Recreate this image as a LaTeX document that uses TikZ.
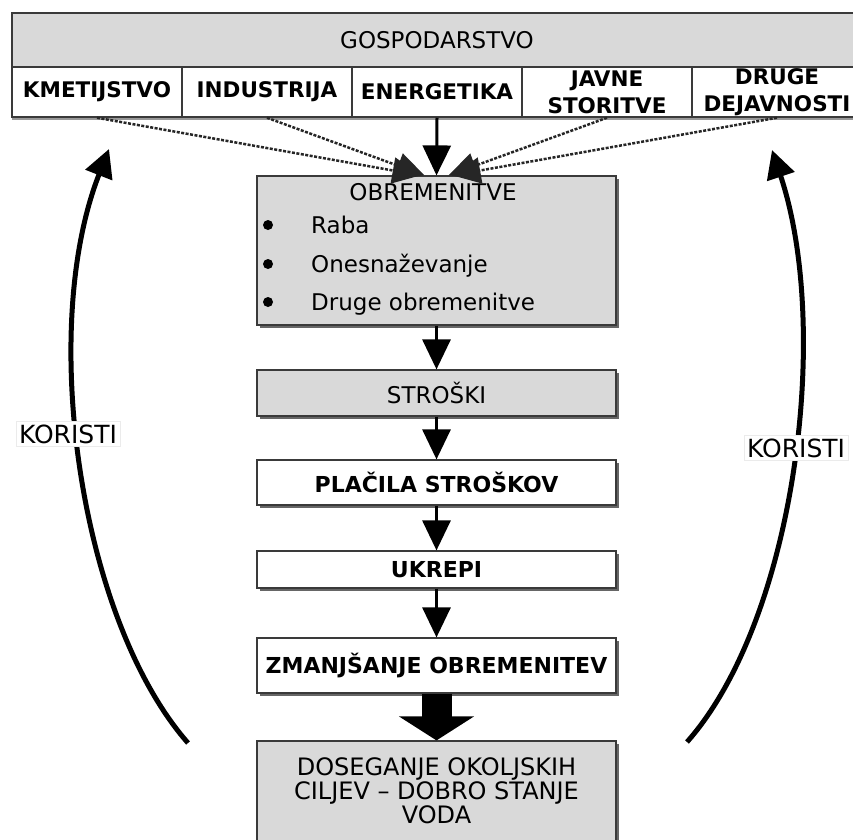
\documentclass[tikz,border=0pt]{standalone}
\usepackage{fontspec}
\setmainfont{DejaVu Sans}
\usepackage{tikz}
\usetikzlibrary{arrows.meta,positioning,shadows}
\definecolor{BoxGray}{HTML}{D9D9D9}
\definecolor{EdgeGray}{HTML}{3A3A3A}

\tikzset{
  graybox/.style={draw=EdgeGray, line width=1.2pt, fill=BoxGray,
    inner sep=0pt, align=center,
    drop shadow={shadow xshift=2.5pt, shadow yshift=-2.5pt,
                 fill=black!60, opacity=1}},
  whitebox/.style={graybox, fill=white},
  sector/.style={draw=EdgeGray, line width=1.5pt, fill=white,
    minimum width=170pt, minimum height=50pt, inner sep=0pt,
    align=center, font=\fontsize{21.5}{27}\selectfont\bfseries,
    drop shadow={shadow xshift=0pt, shadow yshift=-3pt,
                 fill=black!40, opacity=1}},
  flow/.style={draw=black, line width=3pt,
    -{Triangle[length=30pt 0 0,width=28pt 0 0]}},
  feed/.style={draw=black!85, line width=2.5pt,
    dash pattern=on 3pt off 1.5pt,
    -{Triangle[length=28pt 0 0,width=26pt 0 0]}},
  benefit/.style={draw=black, line width=5pt,
    -{Triangle[length=28pt 0 0,width=28pt 0 0]}},
  koristi/.style={fill=white, draw=black!8, inner sep=3pt,
    font=\fontsize{25}{25}\selectfont},
}

\begin{document}
\begin{tikzpicture}[x=1pt, y=-1pt]

    \useasboundingbox (0,0) rectangle (853,839);
    \clip (0,0) rectangle (853,839);

    %% gospodarstvo + sectors
    \node[graybox, minimum width=850pt, minimum height=54pt,
          font=\fontsize{23}{23}\selectfont] (gosp) at (437,40) {GOSPODARSTVO};
    \node[sector] (kmet)   at (97,92)  {KMETIJSTVO};
    \node[sector] (indust) at (267,92) {INDUSTRIJA};
    \node[sector] (energ)  at (437,92) {ENERGETIKA};
    \node[sector] (javne)  at (607,92) {JAVNE\\STORITVE};
    \node[sector] (druge)  at (777,92) {DRUGE\\DEJAVNOSTI};

    %% obremenitve box
    \node[graybox, minimum width=359pt, minimum height=149pt]
      (obrem) at (436.5,250.5) {};
    \node[font=\fontsize{23}{23}\selectfont] (obremtitle) at (433,192) {OBREMENITVE};
    \foreach \txt/\yy [count=\k] in {Raba/233, Onesnaževanje/272, Druge obremenitve/310}{
      \fill (268,\yy-8) circle (5pt);
      \node[anchor=base west, inner sep=0pt,
            font=\fontsize{23}{23}\selectfont] (item\k) at (311,\yy) {\txt};
    }

    %% chain of boxes
    \node[graybox, minimum width=359pt, minimum height=46pt,
          font=\fontsize{23}{23}\selectfont] (stroski) at (436.5,393) {STROŠKI};
    \node[whitebox, minimum width=359pt, minimum height=45pt,
          font=\fontsize{22}{22}\selectfont\bfseries] (placila) at (436.5,482.5) {PLAČILA STROŠKOV};
    \node[whitebox, minimum width=359pt, minimum height=37pt,
          font=\fontsize{22}{22}\selectfont\bfseries] (ukrepi) at (436.5,569.5) {UKREPI};
    \node[whitebox, minimum width=359pt, minimum height=55pt,
          font=\fontsize{22}{22}\selectfont\bfseries] (zmanj) at (436.5,665.5) {ZMANJŠANJE OBREMENITEV};
    \node[graybox, minimum width=359pt, minimum height=100pt,
          font=\fontsize{24}{24}\selectfont] (doseg) at (436.5,791)
      {DOSEGANJE OKOLJSKIH\\CILJEV -- DOBRO STANJE\\VODA};

    %% sectors -> obremenitve
    \draw[feed] (kmet.south)   -- ([xshift=-16pt]obrem.north);
    \draw[feed] (indust.south) -- ([xshift=-12pt]obrem.north);
    \draw[flow] (energ.south) -- (obrem.north);
    \draw[feed] (javne.south)  -- ([xshift=12pt]obrem.north);
    \draw[feed] (druge.south)  -- ([xshift=16pt]obrem.north);

    %% down the chain
    \draw[flow] (obrem.south)   -- (stroski.north);
    \draw[flow] (stroski.south) -- (placila.north);
    \draw[flow] (placila.south) -- (ukrepi.north);
    \draw[flow] (ukrepi.south)  -- (zmanj.north);
    \draw[draw=black, line width=30pt,
          -{Triangle[length=24pt 0 0,width=74pt 0 0]}] (zmanj.south) -- (doseg.north);

    %% koristi arcs
    \coordinate (lfoot) at (188,743);
    \coordinate (ltip)  at (109,149);
    \coordinate (rfoot) at (687,742);
    \coordinate (rtip)  at (772,150);
    \draw[benefit] (lfoot) .. controls (80,620) and (38,330) .. (ltip);
    \draw[benefit] (rfoot) .. controls (795,620) and (832,330) .. (rtip);
    \node[koristi] (lkor) at (68,434)  {KORISTI};
    \node[koristi] (rkor) at (796,448) {KORISTI};

\end{tikzpicture}
\end{document}
